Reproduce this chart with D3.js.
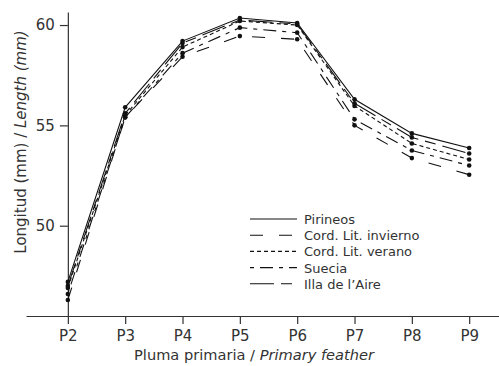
<!DOCTYPE html>
<html>
<head>
<meta charset="utf-8">
<script src="https://cdn.jsdelivr.net/npm/d3@7"></script>
<style>
  body { margin: 0; background: #fff; }
  text { font-family: "DejaVu Sans", Verdana, sans-serif; fill: #333; }
</style>
</head>
<body>
<svg width="499" height="366"></svg>
<script>
// Data
var feathers = [2, 3, 4, 5, 6, 7, 8, 9];
var featherLabels = ["P2", "P3", "P4", "P5", "P6", "P7", "P8", "P9"];
var seriesNames = ["Pirineos", "Cord. Lit. invierno", "Cord. Lit. verano", "Suecia", "Illa de l\u2019Aire"];
var pirineos = [47.2, 55.9, 59.2, 60.35, 60.1, 56.3, 54.6, 53.87];
var invierno = [46.3, 55.4, 58.42, 59.45, 59.29, 55.0, 53.37, 52.54];
var verano = [46.9, 55.5, 58.9, 60.2, 60.0, 55.97, 54.1, 53.3];
var suecia = [46.6, 55.4, 58.6, 59.87, 59.62, 55.3, 53.75, 53.0];
var illa = [47.0, 55.6, 59.1, 60.25, 60.05, 56.1, 54.4, 53.6];
var yTicks = [50, 55, 60];

var seriesValues = [pirineos, invierno, verano, suecia, illa];
var dashes = [null, "13,16", "4,3", "4,6,13,6", "24,7,11,7"];

var svg = d3.select("svg");

// Scales
var x = d3.scaleLinear().domain([1.27, 9.52]).range([26, 499]);
var y = d3.scaleLinear().domain([45.5, 60.65]).range([316, 12]);

// Axes
var xAxis = svg.append("g")
    .attr("transform", "translate(0,316)")
    .call(d3.axisBottom(x)
        .tickValues(feathers)
        .tickFormat(function(d, i) { return featherLabels[i]; })
        .tickSize(8)
        .tickSizeOuter(0)
        .tickPadding(6));
xAxis.selectAll("text").attr("font-size", 15).attr("font-family", "DejaVu Sans");

var yAxis = svg.append("g")
    .attr("transform", "translate(" + x(2) + ",0)")
    .call(d3.axisLeft(y)
        .tickValues(yTicks)
        .tickSize(8)
        .tickSizeOuter(0)
        .tickPadding(5));
yAxis.selectAll("text").attr("font-size", 15).attr("font-family", "DejaVu Sans");

svg.selectAll(".domain, .tick line").attr("stroke", "#333").attr("stroke-width", 1.2);

// Axis titles
var xt = svg.append("text")
    .attr("x", 254)
    .attr("y", 360)
    .attr("text-anchor", "middle")
    .attr("font-size", 14.6);
xt.append("tspan").text("Pluma primaria / ");
xt.append("tspan").attr("font-style", "italic").text("Primary feather");

var yt = svg.append("text")
    .attr("transform", "translate(26,142) rotate(-90)")
    .attr("text-anchor", "middle")
    .attr("font-size", 15);
yt.append("tspan").text("Longitud (mm) / ");
yt.append("tspan").attr("font-style", "italic").text("Length (mm)");

// Lines
var line = d3.line()
    .x(function(d, i) { return x(feathers[i]); })
    .y(function(d) { return y(d); });

seriesValues.forEach(function(vals, k) {
    svg.append("path")
        .datum(vals)
        .attr("d", line)
        .attr("fill", "none")
        .attr("stroke", "#111")
        .attr("stroke-width", 1.1)
        .attr("stroke-dasharray", dashes[k]);
    svg.selectAll(null)
        .data(vals)
        .enter()
        .append("circle")
        .attr("cx", function(d, i) { return x(feathers[i]); })
        .attr("cy", function(d) { return y(d); })
        .attr("r", 2.3)
        .attr("fill", "#111");
});

// Legend
var legend = svg.append("g").attr("transform", "translate(250,219)");
seriesNames.forEach(function(name, k) {
    var row = legend.append("g").attr("transform", "translate(0," + (k * 16.2) + ")");
    row.append("line")
        .attr("x1", 0).attr("x2", 47)
        .attr("stroke", "#111")
        .attr("stroke-width", 1.1)
        .attr("stroke-dasharray", dashes[k]);
    row.append("text")
        .attr("x", 54)
        .attr("y", 5)
        .attr("font-size", 13)
        .text(name);
});
</script>
</body>
</html>
